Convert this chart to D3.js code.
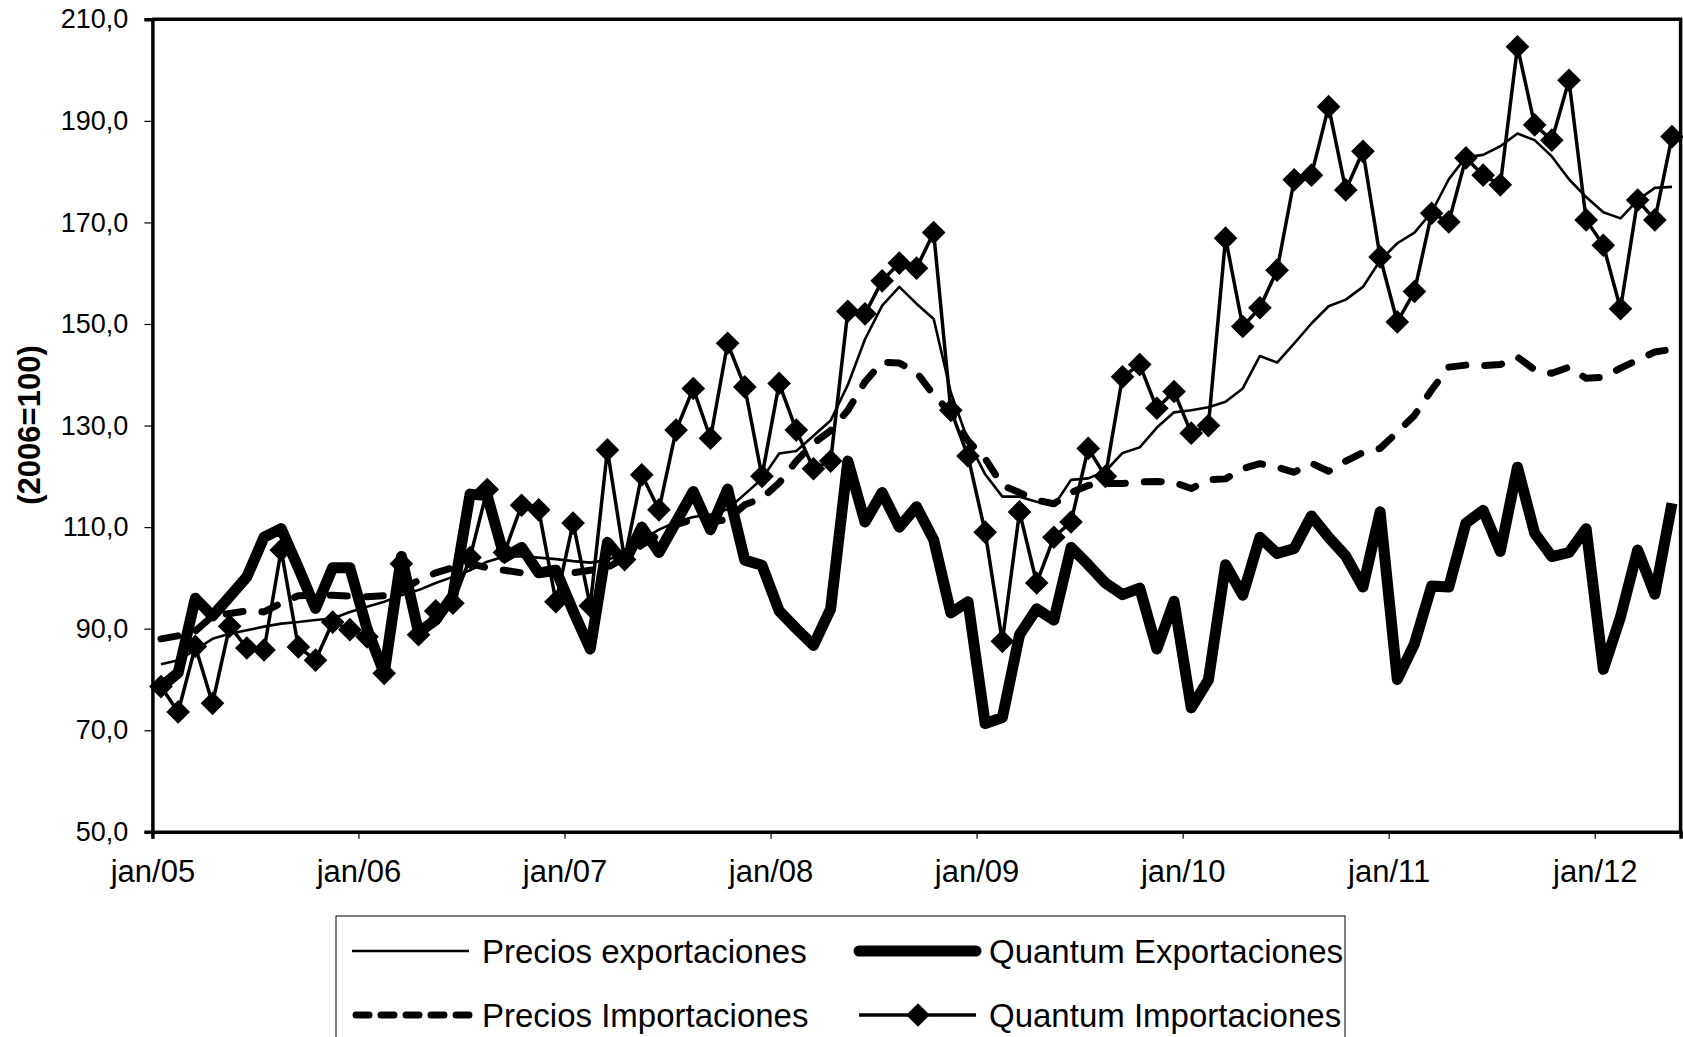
<!DOCTYPE html>
<html lang="es">
<head>
<meta charset="UTF-8">
<title>Precios y Quantum</title>
<script src="https://d3js.org/d3.v7.min.js"></script>
<style>
  body { margin: 0; background: #fff; }
  svg { display: block; font-family: "Liberation Sans", Arial, sans-serif; }
  .axis path, .axis line { stroke: #000; }
  .axis text { fill: #000; }
</style>
</head>
<body>
<svg width="1683" height="1037"></svg>
<script>
// monthly series, jan/05 .. may/12
const tickLabels = ['jan/05', 'jan/06', 'jan/07', 'jan/08', 'jan/09', 'jan/10', 'jan/11', 'jan/12'];
const yTicks = [50, 70, 90, 110, 130, 150, 170, 190, 210];

const preciosExp = [
  83, 83.8, 85.8, 88, 89, 89.7, 90.4, 91, 91.3, 91.7, 92, 93.3,
  94.3, 95.3, 96.6, 97.6, 99, 100.2, 101.5, 103.2, 104.2, 104.2, 104, 103.7,
  103.3, 103, 103.5, 105, 107.5, 109.5, 111, 112, 112.5, 113.5, 116.5, 119.5,
  124.5, 125, 128, 131, 138, 147, 153.6, 157.3, 154, 151, 136.5, 127,
  120.4, 116, 116, 115, 114.2, 119.3, 119.6, 121, 124.6, 125.7, 129.6, 132.6,
  133, 133.6, 134.7, 137.3, 143.7, 142.4, 146.2, 150.1, 153.5, 154.8, 157.3, 162.5,
  165.9, 168, 172, 178.5, 182.9, 183.3, 185, 187.5, 186.2, 183, 178.5, 175,
  172, 170.8, 174.4, 176.8, 177
];

const quantumExp = [
  78.5, 81.3, 96, 92.5, 96.3, 100.2, 108, 109.7, 102, 94, 102, 102,
  90, 81.2, 104.2, 89.3, 91.7, 96.5, 116.5, 116.2, 104, 106, 101, 101.5,
  93.5, 86, 107, 103, 110, 105, 111, 117, 109.5, 117.5, 103.5, 102.5,
  93.5, 90, 86.7, 93.9, 123, 111, 116.8, 110, 114, 107.5, 93.1, 95.3,
  71.3, 72.5, 88.8, 93.9, 91.7, 106, 102.6, 99, 96.7, 98, 86, 95.4,
  74.4, 79.9, 102.6, 96.6, 108, 104.8, 105.8, 112.2, 108, 104.3, 98.2, 113,
  80, 87, 98.4, 98.2, 110.8, 113.3, 105.2, 121.8, 108.8, 104.2, 105, 109.7,
  82, 92.3, 105.5, 96.8, 114.7
];

const preciosImp = [
  88, 88.6, 89.5, 92.5, 93, 93.5, 93.3, 95, 96.5, 96.6, 96.6, 96.4,
  96.3, 96.5, 97.6, 99.5, 101, 102, 102.8, 102, 101.5, 101, 100.8, 101,
  101, 101.5, 102, 104, 106.5, 108.5, 110.5, 111.5, 111, 111.5, 114.4, 115.7,
  118.7, 123, 126.5, 129, 133, 138.6, 142.5, 142.3, 140.5, 136, 132.5, 127,
  123.5, 118.2, 116.8, 115.3, 114.6, 116.8, 118.2, 118.6, 118.6, 118.9, 119, 118.8,
  117.6, 119.3, 119.5, 121.5, 122.5, 121.8, 120.8, 122.6, 121, 123, 124.7, 125.5,
  128.7, 132, 137, 141.5, 141.9, 141.8, 142, 143.5, 141, 140.3, 141.5, 139.3,
  139.5, 141.3, 142.9, 144.5, 145
];

const quantumImp = [
  78.6, 73.6, 86.5, 75.3, 90.5, 86.2, 85.8, 105.5, 86.4, 83.8, 91.3, 89.8,
  88.4, 81.2, 102.8, 88.8, 93.5, 95, 104, 117.4, 105, 114.3, 113.4, 95.3,
  110.8, 94.5, 125.2, 103.6, 120.3, 113.4, 129.1, 137.3, 127.5, 146.2, 137.6, 120,
  138.3, 129.1, 121.5, 123, 152.5, 152, 158.5, 162, 161, 168, 133, 124,
  109, 87.5, 113, 99, 108, 111, 125.5, 120, 139.6, 142, 133.4, 136.7,
  128.5, 130, 166.9, 149.5, 153.2, 160.6, 178.4, 179.3, 192.8, 176.4, 184, 163.2,
  150.4, 156.4, 171.8, 170.1, 182.7, 179.3, 177.4, 204.6, 189.2, 186.2, 198, 170.5,
  165.5, 153, 174.4, 170.5, 186.9
];

const seriesNames = ['Precios exportaciones', 'Quantum Exportaciones', 'Precios Importaciones', 'Quantum Importaciones'];

const plot = { left: 152.4, right: 1680.6, top: 19.3, bottom: 831.8 };
const nMonths = preciosExp.length;

const svg = d3.select('svg');

const x = d3.scaleLinear().domain([0, nMonths]).range([plot.left, plot.right]);
const y = d3.scaleLinear().domain([50, 210]).range([plot.bottom, plot.top]);

const esLocale = d3.formatLocale({ decimal: ',', thousands: '.', grouping: [3], currency: ['', ''] });
const fmt = esLocale.format('.1f');

// plot frame (top and right)
svg.append('path')
  .attr('d', `M${plot.left},${plot.top}H${plot.right}V${plot.bottom}`)
  .attr('fill', 'none')
  .attr('stroke', '#000')
  .attr('stroke-width', 3.5);

// y axis
const yAxis = svg.append('g')
  .attr('class', 'axis')
  .attr('transform', `translate(${plot.left},0)`)
  .call(d3.axisLeft(y).tickValues(yTicks).tickFormat(fmt).tickSize(8).tickPadding(16));
yAxis.select('.domain').attr('stroke-width', 3.5);
yAxis.selectAll('.tick line').attr('stroke-width', 1.2).attr('stroke', '#333');
yAxis.selectAll('text').style('font-size', '27px');

// x axis
const xAxis = svg.append('g')
  .attr('class', 'axis')
  .attr('transform', `translate(0,${plot.bottom})`)
  .call(d3.axisBottom(x)
    .tickValues(tickLabels.map((d, i) => i * 12))
    .tickFormat((d, i) => tickLabels[i])
    .tickSize(7).tickPadding(21));
xAxis.select('.domain').attr('stroke-width', 3.5);
xAxis.selectAll('.tick line').attr('stroke-width', 1.2).attr('stroke', '#333');
xAxis.selectAll('text').style('font-size', '31px');

// y title
svg.append('text')
  .attr('transform', 'translate(40,425) rotate(-90)')
  .attr('text-anchor', 'middle')
  .style('font-size', '31px')
  .style('font-weight', 'bold')
  .text('(2006=100)');

const line = d3.line()
  .x((d, i) => x(i + 0.5))
  .y(d => y(d));

const styles = [
  { data: preciosExp, width: 2.6, dash: null },
  { data: quantumExp, width: 11, dash: null },
  { data: preciosImp, width: 7, dash: '17 19' },
  { data: quantumImp, width: 3.5, dash: null }
];

const lines = svg.append('g');
styles.forEach(s => {
  lines.append('path')
    .datum(s.data)
    .attr('fill', 'none')
    .attr('stroke', '#000')
    .attr('stroke-width', s.width)
    .attr('stroke-linejoin', 'round')
    .attr('stroke-linecap', s.dash ? 'round' : 'butt')
    .attr('stroke-dasharray', s.dash)
    .attr('d', line);
});

const marker = d3.symbol().type(d3.symbolSquare).size(280);
lines.selectAll('.marker')
  .data(quantumImp)
  .enter().append('path')
  .attr('class', 'marker')
  .attr('transform', (d, i) => `translate(${x(i + 0.5)},${y(d)}) rotate(45)`)
  .attr('d', marker)
  .attr('fill', '#000');

// legend
const legend = svg.append('g');
legend.append('rect')
  .attr('x', 336).attr('y', 916)
  .attr('width', 1009).attr('height', 140)
  .attr('fill', '#fff')
  .attr('stroke', '#000')
  .attr('stroke-width', 1);

const legendPos = [
  { x: 352, y: 951 }, { x: 859, y: 951 },
  { x: 352, y: 1015 }, { x: 859, y: 1015 }
];
legendPos.forEach((p, i) => {
  const s = styles[i];
  const g = legend.append('g');
  g.append('line')
    .attr('x1', p.x + (s.dash ? 4 : 0)).attr('x2', p.x + 117)
    .attr('y1', p.y).attr('y2', p.y)
    .attr('stroke', '#000')
    .attr('stroke-width', s.width)
    .attr('stroke-linecap', s.dash || i === 1 ? 'round' : 'butt')
    .attr('stroke-dasharray', s.dash ? '13 12' : null);
  if (i === 3) {
    g.append('path')
      .attr('transform', `translate(${p.x + 59},${p.y}) rotate(45)`)
      .attr('d', marker)
      .attr('fill', '#000');
  }
  g.append('text')
    .attr('x', p.x + 130)
    .attr('y', p.y + 12)
    .style('font-size', '33px')
    .text(seriesNames[i]);
});
</script>
</body>
</html>
